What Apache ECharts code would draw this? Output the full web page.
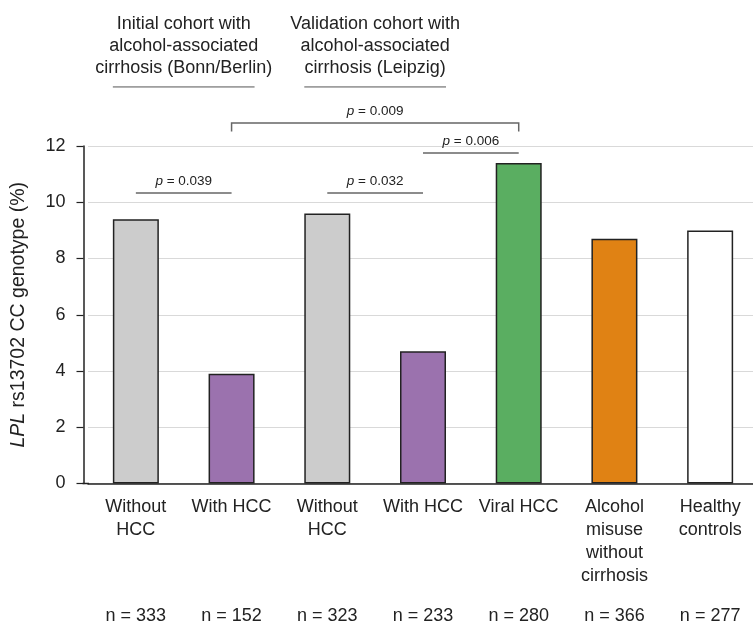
<!DOCTYPE html>
<html>
<head>
<meta charset="utf-8">
<script src="https://cdn.jsdelivr.net/npm/echarts@6/dist/echarts.min.js"></script>
<style>
html,body{margin:0;padding:0;background:#fff;overflow:hidden;}
#main{width:760px;height:624px;}
</style>
</head>
<body>
<div id="main"></div>
<script>
// data
var categories = ['Without\nHCC', 'With HCC', 'Without\nHCC', 'With HCC', 'Viral HCC', 'Alcohol\nmisuse\nwithout\ncirrhosis', 'Healthy\ncontrols'];
var counts = ['n = 333', 'n = 152', 'n = 323', 'n = 233', 'n = 280', 'n = 366', 'n = 277'];
var values = [9.4, 3.9, 9.6, 4.7, 11.4, 8.7, 9.0];
var barColors = ['#cccccc', '#9b72ae', '#cccccc', '#9b72ae', '#5aae61', '#e08214', '#ffffff'];
var yMin = 0, yMax = 12, yStep = 2;
var cohortTitles = ['Initial cohort with\nalcohol-associated\ncirrhosis (Bonn/Berlin)', 'Validation cohort with\nalcohol-associated\ncirrhosis (Leipzig)'];
var cohortBars = [[0, 1], [2, 3]];
var pLabels = ['0.039', '0.032', '0.006', '0.009'];
var pPairs = [[0, 1], [2, 3], [3, 4], [1, 4]];

var FONT = 'Liberation Sans, Arial, sans-serif';
// the plot runs a few px past the right edge of the 753px window, as in the original
var myChart = echarts.init(document.getElementById('main'));

var option = {
    animation: false,
    textStyle: {fontFamily: FONT},
    grid: {left: 88, top: 146, width: 670, bottom: 140.5, outerBoundsMode: 'none', containLabel: false},
    xAxis: [
        {
            type: 'category',
            data: categories,
            axisLine: {lineStyle: {color: '#222', width: 1.5}},
            axisTick: {show: false},
            axisLabel: {color: '#222', fontSize: 18, lineHeight: 23, margin: 12, interval: 0, fontFamily: FONT}
        },
        {
            type: 'category',
            position: 'bottom',
            offset: 109,
            data: counts,
            axisLine: {show: false},
            axisTick: {show: false},
            axisLabel: {color: '#222', fontSize: 18, lineHeight: 23, margin: 12, interval: 0, fontFamily: FONT}
        }
    ],
    yAxis: {
        type: 'value',
        min: yMin,
        max: yMax,
        interval: yStep,
        offset: 4.5,
        name: '{i|LPL}{n| rs13702 CC genotype (%)}',
        nameLocation: 'middle',
        nameGap: 54.5,
        nameTextStyle: {
            rich: {
                i: {fontStyle: 'italic', fontSize: 19.5, color: '#222', fontFamily: FONT},
                n: {fontSize: 19.5, color: '#222', fontFamily: FONT}
            }
        },
        axisLine: {show: true, lineStyle: {color: '#222', width: 1.5}},
        axisTick: {show: true, length: 7, lineStyle: {color: '#222', width: 1.2}},
        axisLabel: {color: '#222', fontSize: 18, margin: 18, fontFamily: FONT},
        splitLine: {lineStyle: {color: '#d9d9d9', width: 1}}
    },
    series: [{
        type: 'bar',
        barWidth: 46,
        data: values.map(function (v, i) {
            return {value: v, itemStyle: {color: barColors[i], borderColor: '#222', borderWidth: 1.5}};
        })
    }]
};
myChart.setOption(option);

// annotations placed with the chart's own scales
function xAt(i) { return myChart.convertToPixel({xAxisIndex: 0}, i); }
function yAt(v) { return myChart.convertToPixel({yAxisIndex: 0}, v); }
var half = 23;
var g = [];

// cohort headers
cohortTitles.forEach(function (t, k) {
    var a = xAt(cohortBars[k][0]) - half, b = xAt(cohortBars[k][1]) + half;
    var ly = yAt(14.1);
    g.push({type: 'line', shape: {x1: a, y1: ly, x2: b, y2: ly}, style: {stroke: '#555', lineWidth: 1}, silent: true});
    g.push({type: 'text', x: (a + b) / 2, y: ly - 41, style: {
        text: t, textAlign: 'center', textVerticalAlign: 'middle',
        font: '18px ' + FONT, lineHeight: 22, fill: '#222'
    }, silent: true});
});

// p-value lines
var pLevels = [10.33, 10.33, 11.75, 12.82];
pLabels.forEach(function (p, k) {
    var a = xAt(pPairs[k][0]), b = xAt(pPairs[k][1]);
    var ly = yAt(pLevels[k]);
    var ls = {stroke: '#666', lineWidth: 1.5, fill: null};
    if (k === 3) {
        var ey = yAt(12.52);
        g.push({type: 'polyline', shape: {points: [[a, ey], [a, ly], [b, ly], [b, ey]]}, style: ls, silent: true});
    } else {
        g.push({type: 'line', shape: {x1: a, y1: ly, x2: b, y2: ly}, style: ls, silent: true});
    }
    g.push({type: 'text', x: (a + b) / 2, y: ly - 11.5, style: {
        text: '{i|p}{n| = ' + p + '}', textAlign: 'center', textVerticalAlign: 'middle',
        rich: {
            i: {fontStyle: 'italic', fontSize: 13.5, fontFamily: FONT, fill: '#222'},
            n: {fontSize: 13.5, fontFamily: FONT, fill: '#222'}
        }
    }, silent: true});
});

// join the offset y axis line to the x axis line
var y0 = yAt(0);
g.push({type: 'line', shape: {x1: 82.5, y1: y0, x2: 89, y2: y0}, style: {stroke: '#222', lineWidth: 1.5}, silent: true});

myChart.setOption({graphic: g});
</script>
</body>
</html>
